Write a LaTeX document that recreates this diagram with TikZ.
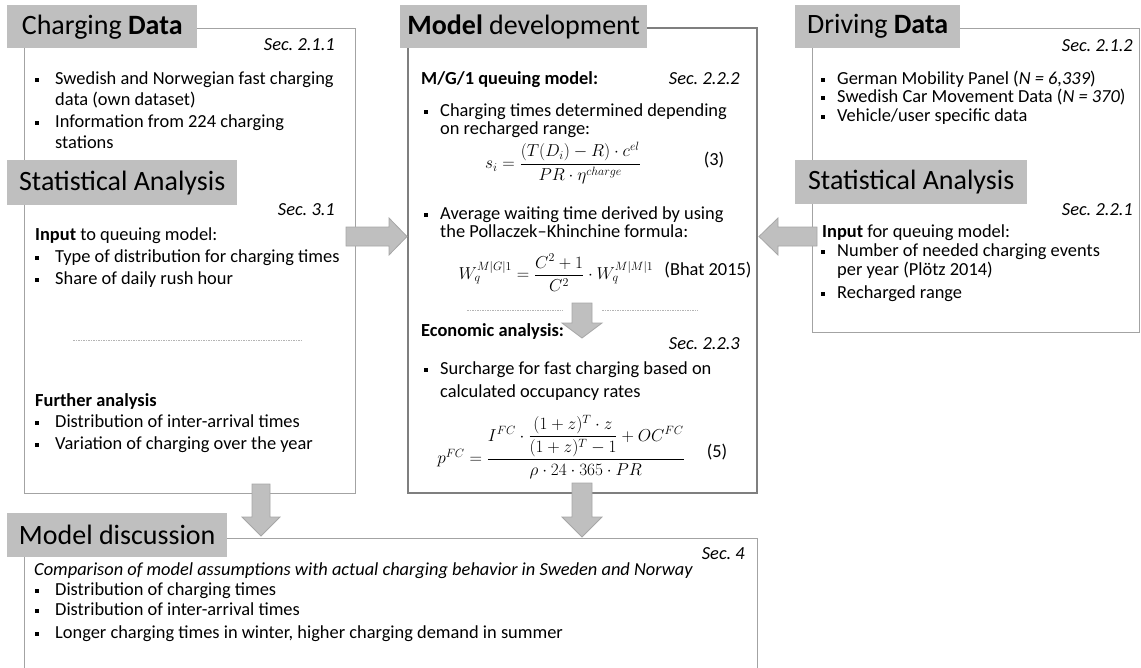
\documentclass[tikz,border=0pt]{standalone}
\usepackage{fontspec}
\setmainfont{Carlito}
\usepackage{amsmath}
\frenchspacing

\definecolor{headgray}{HTML}{BFBFBF}
\definecolor{framegray}{HTML}{A3A3A3}
\definecolor{mainframegray}{HTML}{7F7F7F}
\definecolor{arrowgray}{HTML}{BFBFBF}
\definecolor{arrowedge}{HTML}{A6A6A6}
\definecolor{sepgray}{HTML}{B5B5B5}

\tikzset{
  headbox/.style={fill=headgray, anchor=north west, inner sep=0pt, font=\fontsize{28}{32}\selectfont},
  frame/.style={draw=framegray, line width=1pt},
  mainframe/.style={draw=mainframegray, line width=2.2pt},
  txt/.style={anchor=west, inner sep=0pt, text height=12pt, text depth=4pt, font=\fontsize{18.4}{21}\selectfont},
  sec/.style={txt, anchor=east, font=\fontsize{18.4}{21}\selectfont\itshape},
  bul/.style={fill=black, inner sep=0pt, minimum size=4pt},
  sepline/.style={draw=sepgray, line width=0.8pt, dash pattern=on 1.5pt off 1pt},
  blockarrow/.style={fill=arrowgray, draw=arrowedge, line width=0.8pt},
  eqn/.style={inner sep=0pt, font=\fontsize{16.5}{20}\selectfont}
}

\begin{document}
\begin{tikzpicture}[x=1pt, y=-1pt]
  \useasboundingbox (0,0) rectangle (1141,667);

  % frames
  \draw[frame] (24,28) rectangle (355,493);
  \draw[mainframe] (408,28) rectangle (757,493);
  \draw[frame] (812,28) rectangle (1139,332);
  \draw[frame] (24,675) -- (24,538) -- (757,538) -- (757,675);

  % headings
  \node[headbox, minimum width=190pt, minimum height=43pt] (cdh) at (7,5) {Charging \textbf{Data}};
  \node[headbox, minimum width=230pt, minimum height=45pt] (sah) at (7,160) {Statistical Analysis};
  \node[headbox, minimum width=247pt, minimum height=43pt] (mdh) at (400,5) {\textbf{Model} development};
  \node[headbox, minimum width=165pt, minimum height=43pt] (ddh) at (795,5) {Driving \textbf{Data}};
  \node[headbox, minimum width=232pt, minimum height=44pt] (sah2) at (795,160) {Statistical Analysis};
  \node[headbox, minimum width=220pt, minimum height=44pt] (mdis) at (7,513) {Model discussion};

  % charging data
  \node[sec] (s211) at (335,46) {Sec. 2.1.1};
  \node[bul] (cdb1) at (37,80) {};
  \node[txt] (cd1) at (55,80) {Swedish and Norwegian fast charging};
  \node[txt] (cd2) at (55,101) {data (own dataset)};
  \node[bul] (cdb2) at (37,123) {};
  \node[txt] (cd3) at (55,123) {Information from 224 charging};
  \node[txt] (cd4) at (55,144) {stations};

  % statistical analysis (left)
  \node[sec] (s31) at (335,211) {Sec. 3.1};
  \node[txt] (in1) at (35,236) {\textbf{Input} to queuing model:};
  \node[bul] (inb1) at (37,258) {};
  \node[txt] (in2) at (55,258) {Type of distribution for charging times};
  \node[bul] (inb2) at (37,280) {};
  \node[txt] (in3) at (55,280) {Share of daily rush hour};
  \draw[sepline] (73,340) -- (303,340);
  \node[txt] (fa1) at (35,402) {\textbf{Further analysis}};
  \node[bul] (fab1) at (37,423) {};
  \node[txt] (fa2) at (55,423) {Distribution of inter-arrival times};
  \node[bul] (fab2) at (37,445) {};
  \node[txt] (fa3) at (55,445) {Variation of charging over the year};

  % model development
  \node[txt] (mg1) at (421,80) {\textbf{M/G/1 queuing model:}};
  \node[sec] (s222) at (740,80) {Sec. 2.2.2};
  \node[bul] (mgb1) at (426,112) {};
  \node[txt] (mg2) at (440,112) {Charging times determined depending};
  \node[txt] (mg3) at (440,130) {on recharged range:};
  \node[eqn] (eq3) at (563,163) {$s_i=\dfrac{(T(D_i)-R)\cdot c^{el}}{PR\cdot\eta^{charge}}$};
  \node[txt, anchor=center] (n3) at (714,161) {(3)};
  \node[bul] (mgb2) at (426,215) {};
  \node[txt] (mg4) at (440,215) {Average waiting time derived by using};
  \node[txt] (mg5) at (440,233) {the Pollaczek--Khinchine formula:};
  \node[eqn] (eqw) at (556,273) {$W_q^{M|G|1}=\dfrac{C^2+1}{C^2}\cdot W_q^{M|M|1}$};
  \node[txt, anchor=center] (bh) at (708,271) {(Bhat 2015)};
  \draw[sepline] (467,310) -- (563,310);
  \draw[sepline] (602,310) -- (698,310);
  \node[txt] (ec1) at (421,332) {\textbf{Economic analysis:}};
  \node[sec] (s223) at (740,345) {Sec. 2.2.3};
  \node[bul] (ecb1) at (426,370) {};
  \node[txt] (ec2) at (440,370) {Surcharge for fast charging based on};
  \node[txt] (ec3) at (440,393) {calculated occupancy rates};
  \node[eqn] (eq5) at (561,447) {$p^{FC}=\dfrac{I^{FC}\cdot\dfrac{(1+z)^T\cdot z}{(1+z)^T-1}+OC^{FC}}{\rho\cdot 24\cdot 365\cdot PR}$};
  \node[txt, anchor=center] (n5) at (717,453) {(5)};

  % driving data
  \node[sec] (s212) at (1133,47) {Sec. 2.1.2};
  \node[bul] (ddb1) at (823,80) {};
  \node[txt] (dd1) at (837,80) {German Mobility Panel (\textit{N = 6,339})};
  \node[bul] (ddb2) at (823,98) {};
  \node[txt] (dd2) at (837,98) {Swedish Car Movement Data (\textit{N = 370})};
  \node[bul] (ddb3) at (823,117) {};
  \node[txt] (dd3) at (837,117) {Vehicle/user specific data};

  % statistical analysis (right)
  \node[sec] (s221) at (1133,211) {Sec. 2.2.1};
  \node[txt] (ip1) at (822,233) {\textbf{Input} for queuing model:};
  \node[bul] (ipb1) at (823,252) {};
  \node[txt] (ip2) at (837,252) {Number of needed charging events};
  \node[txt] (ip3) at (837,271) {per year (Plötz 2014)};
  \node[bul] (ipb2) at (823,294) {};
  \node[txt] (ip4) at (837,294) {Recharged range};

  % model discussion
  \node[sec] (s4) at (745,555) {Sec. 4};
  \node[txt, font=\fontsize{18.4}{21}\selectfont\itshape] (dc1) at (34,571) {Comparison of model assumptions with actual charging behavior in Sweden and Norway};
  \node[bul] (dcb1) at (37,591) {};
  \node[txt] (dc2) at (55,591) {Distribution of charging times};
  \node[bul] (dcb2) at (37,611) {};
  \node[txt] (dc3) at (55,611) {Distribution of inter-arrival times};
  \node[bul] (dcb3) at (37,634) {};
  \node[txt] (dc4) at (55,634) {Longer charging times in winter, higher charging demand in summer};

  % block arrows
  \filldraw[blockarrow] (346,227) -- (389,227) -- (389,218) -- (407,236.5) -- (389,255) -- (389,246) -- (346,246) -- cycle;
  \filldraw[blockarrow] (817,227) -- (778,227) -- (778,218) -- (759,236.5) -- (778,255) -- (778,246) -- (817,246) -- cycle;
  \filldraw[blockarrow] (572,303) -- (592,303) -- (592,323) -- (602,323) -- (582,338) -- (562,323) -- (572,323) -- cycle;
  \filldraw[blockarrow] (252,484) -- (270,484) -- (270,517) -- (280,517) -- (261,536) -- (242,517) -- (252,517) -- cycle;
  \filldraw[blockarrow] (572,483) -- (592,483) -- (592,517) -- (602,517) -- (582,537) -- (562,517) -- (572,517) -- cycle;

\end{tikzpicture}
\end{document}
